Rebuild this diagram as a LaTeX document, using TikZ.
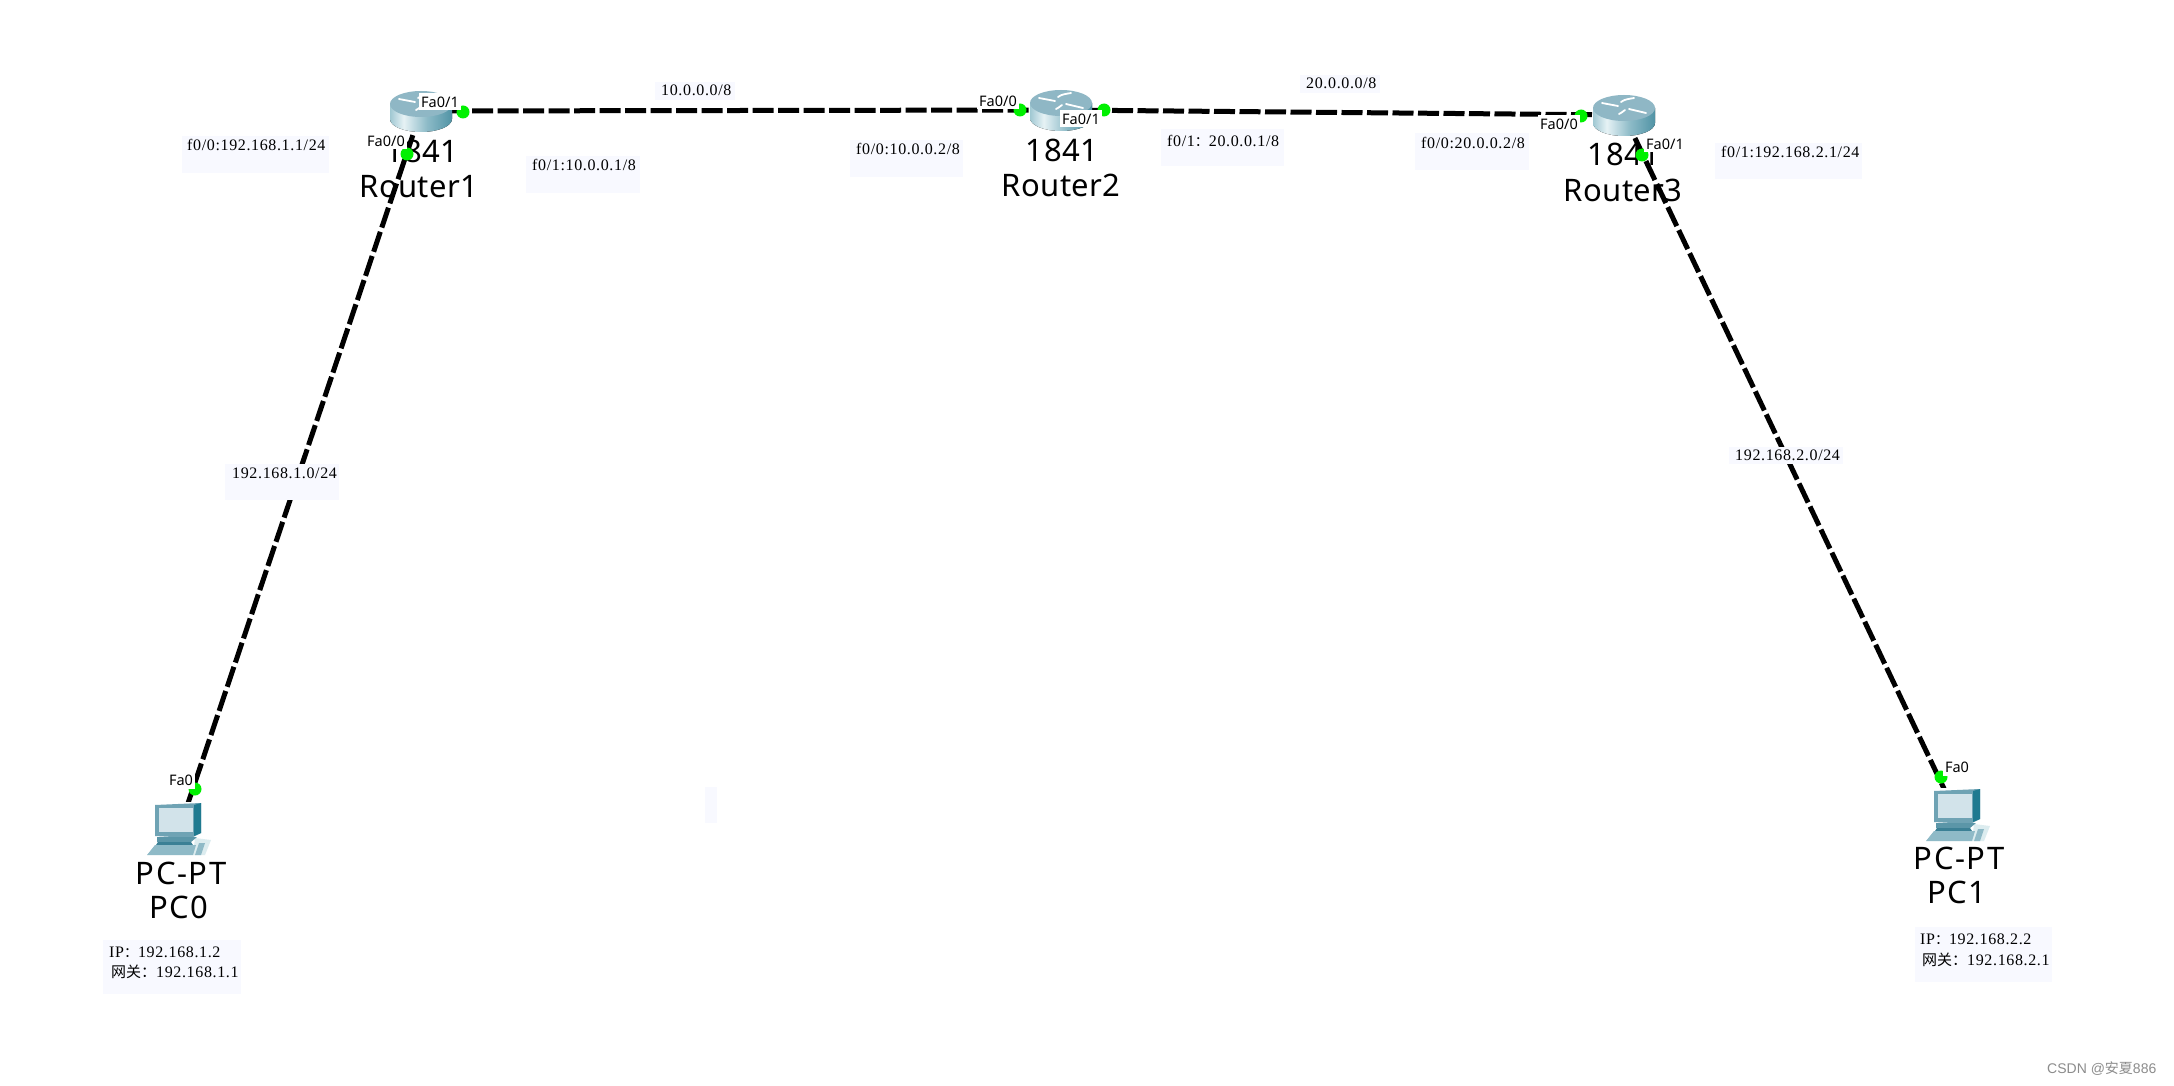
\documentclass[tikz,border=0pt]{standalone}
\usepackage{fontspec}
\setmainfont[LetterSpace=1.5]{Noto Sans}
\newfontfamily\pcf[LetterSpace=5]{Noto Sans}
\newfontfamily\faf{Noto Sans}
\newfontfamily\smallf[LetterSpace=4]{Liberation Serif}
\newfontfamily\smallcjk{Noto Sans CJK SC}
\newfontfamily\markf{Liberation Sans}
\definecolor{labbg}{HTML}{F8F9FF}
\definecolor{portg}{HTML}{00F000}
\definecolor{cba}{HTML}{5F9BAC}
\definecolor{cbb}{HTML}{8DBCC9}
\definecolor{cbc}{HTML}{E6F2F5}
\definecolor{cbd}{HTML}{8CBAC7}
\definecolor{cbe}{HTML}{338094}
\definecolor{cbf}{HTML}{217085}
\definecolor{rtop}{HTML}{8FB7C5}
\definecolor{pcm}{HTML}{6FA3B4}
\definecolor{pcd}{HTML}{1F7A90}
\definecolor{pcs}{HTML}{D2E3EA}
\definecolor{pcu}{HTML}{5B96A8}
\definecolor{pcv}{HTML}{3B8095}
\definecolor{pck}{HTML}{8FBAC7}
\definecolor{pcl}{HTML}{DCECEF}
\pgfdeclarehorizontalshading{rbody}{100bp}{color(0bp)=(cba);color(22bp)=(cbb);color(36bp)=(cbc);color(55bp)=(cbd);color(85bp)=(cbe);color(100bp)=(cbf)}
\tikzset{
 x=1pt,y=-1pt,
 link/.style={line width=5pt,black,dash pattern=on 21pt off 4.5pt},
 port/.style={circle,fill=portg,inner sep=0pt,minimum size=13pt},
 devname/.style={font=\fontsize{31}{31}\selectfont,inner sep=0pt,text height=22pt,text depth=0pt},
 pcname/.style={font=\fontsize{31}{31}\pcf,inner sep=0pt,text height=22pt,text depth=0pt},
 falab/.style={font=\fontsize{14.5}{14.5}\faf,fill=white,inner xsep=2pt,inner ysep=0pt,minimum height=17pt},
 labbox/.style={fill=labbg,inner sep=0pt,anchor=north west},
 labtxt/.style={font=\fontsize{16}{16}\smallf,inner sep=0pt,anchor=west,text height=11pt,text depth=0pt},
 routericon/.pic={
  \fill[shading=rbody] (-31,-7) -- (-31,8) arc[x radius=31,y radius=13,start angle=180,end angle=0] -- (31,-7) -- cycle;
  \fill[rtop] (0,-7) ellipse[x radius=31,y radius=13];
  \draw[white,line width=1.8pt,line cap=round] (-22,-12) -- (-6,-9) (22,-2) -- (5,-6) (-3,-13) .. controls (1,-16) and (5,-16) .. (10,-17) (-5,-1) .. controls (-1,-3) and (-1,-4) .. (1,-5);
 },
 pcicon/.pic={
  \fill[pcl] (48,35) -- (64,37) -- (58,52) -- (46,52) -- cycle;
  \fill[pck] (52,40) -- (58,40) -- (54,52) -- (48,52) -- cycle;
  \fill[pcm] (8,2) -- (54,0) -- (54,30) -- (44,35) -- (8,33) -- cycle;
  \fill[pcd] (47,2) -- (54,0) -- (54,30) -- (47,33) -- cycle;
  \fill[pcs] (12,5) -- (46,5) -- (46,29) -- (12,29) -- cycle;
  \fill[pcu] (10,34) -- (50,34) -- (44,39) -- (10,39) -- cycle;
  \fill[pcv] (11,39) -- (44,39) -- (46,42) -- (9,42) -- cycle;
  \fill[pck] (8,42) -- (49,42) -- (46,52) -- (0,52) -- cycle;
 }
}
\newcommand{\lab}[8]{%
 \node[labbox,minimum width=#4pt-#2pt,minimum height=#5pt-#3pt] (#1) at (#2,#3) {};
 \node[labtxt] (#1t) at (#6,#7) {#8};}
\begin{document}
\begin{tikzpicture}
\useasboundingbox (0,0) rectangle (2174,1086);
\fill[white] (0,0) rectangle (2174,1086);
% device centres
\coordinate (r1) at (421,111);
\coordinate (r2) at (1061,110);
\coordinate (r3) at (1624,115);
\coordinate (pc0) at (179,830);
\coordinate (pc1) at (1957,816);
% names
\node[devname] (r1m) at (422,152) {1841};
\node[devname] (r1n) at (419,187) {Router1};
\node[devname] (r2m) at (1062,151) {1841};
\node[devname] (r2n) at (1061,186) {Router2};
\node[devname] (r3m) at (1624,155) {1841};
\node[devname] (r3n) at (1623,191) {Router3};
\node[pcname] (pc0m) at (181,873) {PC-PT};
\node[pcname] (pc0n) at (179,907) {PC0};
\node[pcname] (pc1m) at (1959,858) {PC-PT};
\node[pcname] (pc1n) at (1957,892) {PC1};
% connectors
\draw[link] (r1) -- (r2);
\draw[link] (r2) -- (r3);
\draw[link] (r1) -- (pc0);
\draw[link] (r3) -- (pc1);
% ports
\node[port] (p1a) at (463,112) {};
\node[port] (p1b) at (407,154) {};
\node[port] (p2a) at (1020,110) {};
\node[port] (p2b) at (1104,110) {};
\node[port] (p3a) at (1581,116) {};
\node[port] (p3b) at (1642,155) {};
\node[port] (p4) at (195,789) {};
\node[port] (p5) at (1941,777) {};
% icons
\fill[white] (140,802) rectangle (220,860);
\fill[white] (1920,788) rectangle (1995,846);
\pic at (r1) {routericon};
\pic at (r2) {routericon};
\pic at (r3) {routericon};
\pic at (147,803) {pcicon};
\pic at (1926,789) {pcicon};
% port labels
\node[falab] (f1a) at (440,102) {Fa0/1};
\node[falab] (f1b) at (386,141) {Fa0/0};
\node[falab] (f2a) at (998,101) {Fa0/0};
\node[falab] (f2b) at (1081,119) {Fa0/1};
\node[falab] (f3a) at (1559,124) {Fa0/0};
\node[falab] (f3b) at (1665,144) {Fa0/1};
\node[falab] (f4) at (181,780) {Fa0};
\node[falab] (f5) at (1957,767) {Fa0};
% text labels
\lab{a1}{182}{136}{329}{173}{187}{145}{f0/0:192.168.1.1/24}
\lab{a2}{526}{156}{640}{193}{532}{165}{f0/1:10.0.0.1/8}
\lab{a3}{850}{140}{963}{177}{856}{149}{f0/0:10.0.0.2/8}
\lab{a4}{1161}{129}{1284}{166}{1167}{141}{f0/1{\smallcjk\fontsize{14}{14}\selectfont ：}20.0.0.1/8}
\lab{a5}{1415}{133}{1529}{170}{1421}{143}{f0/0:20.0.0.2/8}
\lab{a6}{1715}{143}{1862}{179}{1721}{152}{f0/1:192.168.2.1/24}
\lab{n1}{655}{82}{735}{100}{661}{90}{10.0.0.0/8}
\lab{n2}{1300}{75}{1380}{93}{1306}{83}{20.0.0.0/8}
\lab{n3}{225}{464}{339}{500}{232}{473}{192.168.1.0/24}
\lab{n4}{1729}{447}{1843}{464}{1735}{455}{192.168.2.0/24}
\node[labbox,minimum width=12pt,minimum height=36pt] (blank) at (705,787) {};
\lab{i1}{103}{940}{241}{994}{109}{952}{IP{\smallcjk\fontsize{14}{14}\selectfont ：}192.168.1.2}
\node[labtxt] (i1b) at (111,972) {{\smallcjk\fontsize{15}{15}\selectfont 网关：}192.168.1.1};
\lab{i2}{1915}{927}{2052}{982}{1920}{939}{IP{\smallcjk\fontsize{14}{14}\selectfont ：}192.168.2.2}
\node[labtxt] (i2b) at (1922,960) {{\smallcjk\fontsize{15}{15}\selectfont 网关：}192.168.2.1};
% watermark
\node[inner sep=0pt,anchor=west,text=black!45,font=\fontsize{14}{14}\markf] (wm) at (2047,1069) {CSDN @{\smallcjk\fontsize{14}{14}\selectfont 安夏}886};
\end{tikzpicture}
\end{document}
